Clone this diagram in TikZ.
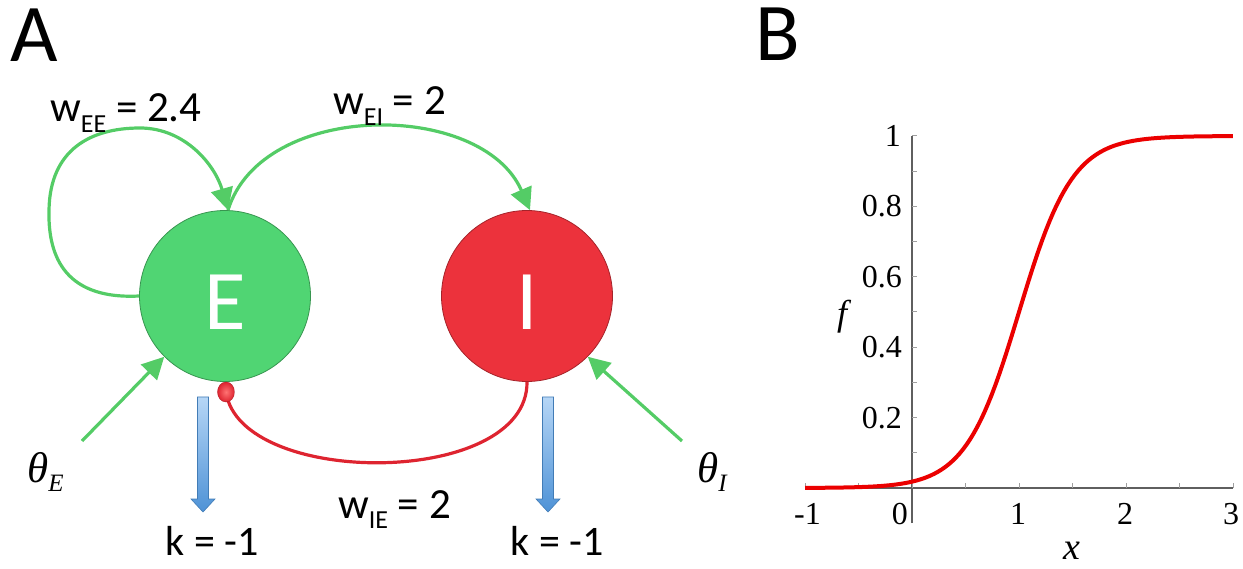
\documentclass[tikz,border=0pt]{standalone}
\usepackage{fontspec}
\setmainfont{Carlito}
\newfontfamily\timesfont{Liberation Serif}
\usetikzlibrary{arrows.meta, positioning, shapes.geometric, calc}

\definecolor{egreen}{RGB}{80,213,115}
\definecolor{ired}{RGB}{236,50,60}
\definecolor{wgreen}{RGB}{84,204,102}
\definecolor{wred}{RGB}{222,36,48}
\definecolor{kblue}{RGB}{78,146,214}
\definecolor{kbluelight}{RGB}{182,214,246}
\definecolor{axisgray}{RGB}{95,95,95}

\newcommand{\lowidx}[1]{\raisebox{-0.24em}{\fontsize{26}{26}\selectfont #1}}
\newcommand{\lowth}[1]{\raisebox{-0.22em}{\fontsize{25}{25}\selectfont #1}}

\begin{document}
\begin{tikzpicture}[x=1pt, y=-1pt, >={Triangle[length=22pt,width=22pt]},
    pop/.style={circle, minimum size=171pt, inner sep=0pt, text=white,
      text height=68pt, font=\fontsize{85}{85}\selectfont, line width=0.8pt},
    excit/.style={wgreen, line width=3.2pt},
    inhib/.style={wred, line width=3.2pt},
    ball/.style={ellipse, minimum width=17pt, minimum height=20pt, inner sep=0pt,
      inner color=red!55!white, outer color=wred, draw=wred!80!black, line width=0.4pt},
    decay/.style={top color=kbluelight, bottom color=kblue, draw=kblue!85!black, line width=0.6pt},
    wlabel/.style={anchor=base west, inner sep=0pt, font=\fontsize{43}{43}\selectfont},
    klabel/.style={anchor=base, inner sep=0pt, font=\fontsize{42}{42}\selectfont},
    thlabel/.style={anchor=base west, inner sep=0pt, font=\fontsize{43}{43}\timesfont\itshape},
    panel/.style={anchor=base west, inner sep=0pt, font=\fontsize{82}{82}\selectfont},
    axis/.style={axisgray, line width=1.4pt},
    tick/.style={axisgray!60, line width=1pt},
    ticklabel/.style={inner sep=0pt, font=\fontsize{32}{32}\timesfont},
    sig/.style={red!92!black, line width=4pt, line join=round}]
    \useasboundingbox (0,0) rectangle (1243,569);

    % Panel A: E-I network
    \node[panel] (pA) at (10,62) {A};
    \node[pop, fill=egreen, draw=egreen!70!black] (E) at (225,296) {E};
    \node[pop, fill=ired, draw=ired!70!black] (I) at (527,296) {I};

    \draw[excit, ->] (E.west) .. controls (60,300) and (48,250) .. (49,210)
          .. controls (50,150) and (90,128) .. (140,128)
          .. controls (185,128) and (215,165) .. (E.88);
    \draw[excit, ->] (E.88) .. controls (262,100) and (482,100) .. (I.88);
    \node[wlabel] (wEE) at (50,122) {w\lowidx{EE} = 2.4};
    \node[wlabel] (wEI) at (333,115) {w\lowidx{EI} = 2};

    \draw[inhib] (I.south) .. controls (528,488) and (240,488) .. (226,392);
    \node[ball] (dotE) at (226,392) {};
    \node[wlabel] (wIE) at (338,518) {w\lowidx{IE} = 2};

    % inputs
    \coordinate (thE) at (82,441);
    \coordinate (thI) at (682,441);
    \draw[excit, ->] (thE) -- (E.225);
    \draw[excit, ->] (thI) -- (I.315);
    \node[thlabel] (thEl) at (27,482) {θ\lowth{E}};
    \node[thlabel] (thIl) at (697,482) {θ\lowth{I}};

    % decay
    \coordinate (kEtop) at (203,397);
    \coordinate (kItop) at (548,397);
    \foreach \k in {kEtop,kItop}
      \shade[decay] ([xshift=-5.5pt]\k) -- ++(11,0) -- ++(0,102) -- ++(6.5,0)
            -- ++(-12,13) -- ++(-12,-13) -- ++(6.5,0) -- cycle;
    \node[klabel] (kE) at (212,555) {k = -1};
    \node[klabel] (kI) at (557,555) {k = -1};

    % Panel B: transfer function
    \node[panel] (pB) at (755,61) {B};
    \draw[axis] (805,488) -- (1233,488);
    \draw[axis] (912,523) -- (912,136);
    \foreach \t in {-1,-0.5,...,3}
      \draw[tick] ({912+107*\t},488) -- ++(0,-5);
    \foreach \t in {1,...,10}
      \draw[tick] (912,{488-35.2*\t}) -- ++(5,0);
    \foreach \v in {0.2,0.4,0.6,0.8}
      \node[ticklabel, anchor=east] at (902,{488-352*\v}) {\v};
    \node[ticklabel, anchor=east] at (901,136) {1};
    \node[ticklabel, anchor=north east] at (821,503) {-1};
    \node[ticklabel, anchor=north east] at (908,503) {0};
    \node[ticklabel, anchor=north] at (1018,503) {1};
    \node[ticklabel, anchor=north] at (1125,503) {2};
    \node[ticklabel, anchor=north] at (1231,503) {3};
    \node[font=\fontsize{36}{36}\timesfont\itshape] (fl) at (842,317) {f};
    \node[font=\fontsize{38}{38}\timesfont\itshape] (xl) at (1072,551) {x};
    \draw[sig] plot[domain=-1:3, samples=120] ({912+107*\x},{488-352/(1+exp(-4*(\x-1)))});
\end{tikzpicture}
\end{document}
